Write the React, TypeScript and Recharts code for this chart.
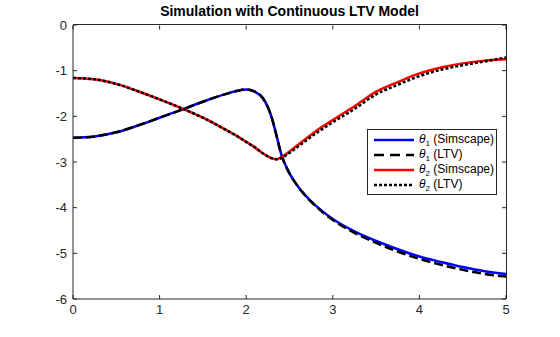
import { LineChart, Line, XAxis, YAxis } from "recharts";

const T = [0, 0.25, 0.5, 0.75, 1, 1.25, 1.5, 1.75, 1.9, 2, 2.1, 2.2, 2.3, 2.35, 2.4, 2.5, 2.6, 2.8, 3, 3.25, 3.5, 3.75, 4, 4.25, 4.5, 4.75, 5];

const THETA1_SIM = [-2.47, -2.44, -2.35, -2.2, -2.03, -1.86, -1.68, -1.52, -1.44, -1.41, -1.46, -1.62, -2.06, -2.42, -2.8, -3.25, -3.54, -3.95, -4.25, -4.52, -4.73, -4.91, -5.07, -5.19, -5.3, -5.39, -5.45];
const THETA1_LTV = [-2.47, -2.44, -2.35, -2.2, -2.03, -1.86, -1.68, -1.52, -1.44, -1.41, -1.46, -1.62, -2.06, -2.42, -2.8, -3.25, -3.54, -3.96, -4.27, -4.55, -4.77, -4.96, -5.12, -5.25, -5.36, -5.45, -5.51];
const THETA2_SIM = [-1.16, -1.19, -1.29, -1.45, -1.63, -1.82, -2.03, -2.28, -2.44, -2.56, -2.68, -2.82, -2.92, -2.94, -2.9, -2.77, -2.62, -2.33, -2.08, -1.78, -1.46, -1.25, -1.06, -0.93, -0.84, -0.78, -0.75];
const THETA2_LTV = [-1.16, -1.19, -1.29, -1.45, -1.63, -1.82, -2.03, -2.28, -2.44, -2.56, -2.68, -2.82, -2.92, -2.94, -2.92, -2.8, -2.66, -2.38, -2.13, -1.84, -1.52, -1.31, -1.12, -0.98, -0.88, -0.8, -0.71];

const X_TICKS = [0, 1, 2, 3, 4, 5];
const Y_TICKS = [0, -1, -2, -3, -4, -5, -6];

const data = T.map((t, i) => ({
  t,
  s1: THETA1_SIM[i],
  l1: THETA1_LTV[i],
  s2: THETA2_SIM[i],
  l2: THETA2_LTV[i],
}));

const AXIS = "#262626";
const FONT = "'Liberation Sans', Arial, sans-serif";

// plot box (from chart margins + axis sizes)
const BOX = { left: 73, right: 506, top: 25, bottom: 299 };

// x tick label + mirrored inward tick on the top edge
function XTick(props: any) {
  const { x, y, payload } = props;
  return (
    <g>
      <text x={x} y={y} dy="0.71em" textAnchor="middle" fill={AXIS} fontSize={13} fontFamily={FONT}>
        {payload.value}
      </text>
      <path d={`M${x},${BOX.top + 0.5}v4`} stroke={AXIS} strokeWidth={1} fill="none" />
    </g>
  );
}

// y tick label + mirrored inward tick on the right edge
function YTick(props: any) {
  const { x, y, payload } = props;
  return (
    <g>
      <text x={x} y={y} dy="0.355em" textAnchor="end" fill={AXIS} fontSize={13} fontFamily={FONT}>
        {payload.value}
      </text>
      <path d={`M${BOX.right - 4},${y}h4`} stroke={AXIS} strokeWidth={1} fill="none" />
    </g>
  );
}

const LEGEND_ITEMS = [
  { sub: "1", label: "(Simscape)", color: "#0000ff", dash: undefined },
  { sub: "1", label: "(LTV)", color: "#000000", dash: "10 6" },
  { sub: "2", label: "(Simscape)", color: "#ff0000", dash: undefined },
  { sub: "2", label: "(LTV)", color: "#000000", dash: "3 2" },
];

function LegendBox() {
  return (
    <div
      style={{
        position: "absolute",
        left: 367,
        top: 129,
        width: 130,
        boxSizing: "border-box",
        border: `1px solid ${AXIS}`,
        background: "#fff",
        padding: "2px 0 2px 5px",
        fontFamily: FONT,
        fontSize: 12,
        color: "#000",
        lineHeight: "15px",
      }}
    >
      {LEGEND_ITEMS.map((it, i) => (
        <div key={i} style={{ display: "flex", alignItems: "center", whiteSpace: "nowrap", height: 15 }}>
          <svg width={42} height={10} style={{ marginRight: 4 }}>
            <line x1={1} y1={5} x2={41} y2={5} stroke={it.color} strokeWidth={2.5} strokeDasharray={it.dash} />
          </svg>
          <span>
            <i>θ</i>
            <sub style={{ fontSize: 8, lineHeight: 0 }}>{it.sub}</sub> {it.label}
          </span>
        </div>
      ))}
    </div>
  );
}

export default function App() {
  return (
    <div style={{ position: "absolute", left: 0, top: 0, width: 560, height: 337, background: "#fff" }}>
      <div
        style={{
          position: "absolute",
          left: 73,
          width: 433,
          top: 3,
          textAlign: "center",
          fontFamily: FONT,
          fontWeight: "bold",
          fontSize: 14,
          color: "#000",
        }}
      >
        Simulation with Continuous LTV Model
      </div>
      <div style={{ position: "absolute", left: 0, top: 0 }}>
        <LineChart width={560} height={337} data={data} margin={{ top: 25, right: 54, left: 0, bottom: 0 }}>
          <XAxis
            dataKey="t"
            type="number"
            domain={[0, 5]}
            ticks={X_TICKS}
            height={38}
            stroke={AXIS}
            tickSize={-4}
            tickMargin={10}
            tick={XTick}
          />
          <YAxis
            type="number"
            domain={[-6, 0]}
            ticks={Y_TICKS}
            width={73}
            stroke={AXIS}
            tickSize={-4}
            tickMargin={10}
            tick={YTick}
          />
          <Line dataKey="s1" type="monotone" stroke="#0000ff" strokeWidth={2.5} dot={false} isAnimationActive={false} />
          <Line dataKey="l1" type="monotone" stroke="#000000" strokeWidth={2.5} strokeDasharray="9 4" dot={false} isAnimationActive={false} />
          <Line dataKey="s2" type="monotone" stroke="#ff0000" strokeWidth={2.5} dot={false} isAnimationActive={false} />
          <Line dataKey="l2" type="monotone" stroke="#000000" strokeWidth={2.5} strokeDasharray="3 2" dot={false} isAnimationActive={false} />
        </LineChart>
      </div>
      {/* box outline: top and right edges, drawn above the chart */}
      <div
        style={{
          position: "absolute",
          left: BOX.left,
          top: BOX.top - 1,
          width: BOX.right - BOX.left + 1,
          height: BOX.bottom - BOX.top + 1,
          borderTop: `1px solid ${AXIS}`,
          borderRight: `1px solid ${AXIS}`,
          boxSizing: "border-box",
          pointerEvents: "none",
        }}
      />
      <LegendBox />
    </div>
  );
}
